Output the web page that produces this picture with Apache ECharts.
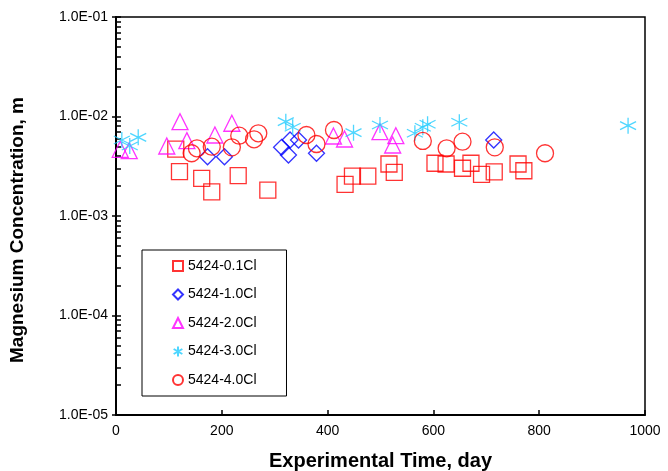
<!DOCTYPE html>
<html>
<head>
<meta charset="utf-8">
<script src="https://cdn.jsdelivr.net/npm/echarts@6/dist/echarts.min.js"></script>
<style>
  html, body { margin: 0; padding: 0; background: #fff; }
  #chart { width: 668px; height: 471px; }
</style>
</head>
<body>
<div id="chart"></div>
<script>
// values (day, molality)
const cl01Days = [113, 120, 162, 181, 231, 287, 433, 447, 476, 516, 526, 603, 624, 655, 671, 691, 715, 760, 771];
const cl01Vals = [4.71e-3, 2.79e-3, 2.39e-3, 1.75e-3, 2.54e-3, 1.82e-3, 2.08e-3, 2.52e-3, 2.52e-3, 3.33e-3, 2.75e-3, 3.39e-3, 3.33e-3, 3.02e-3, 3.39e-3, 2.62e-3, 2.77e-3, 3.33e-3, 2.85e-3];

const cl10Days = [173, 205, 313, 326, 329, 345, 379, 714];
const cl10Vals = [3.94e-3, 3.94e-3, 4.90e-3, 4.10e-3, 5.81e-3, 5.81e-3, 4.27e-3, 5.80e-3];

const cl20Days = [8, 25, 96, 121, 134, 187, 219, 411, 432, 499, 523, 529];
const cl20Vals = [4.68e-3, 4.53e-3, 5.05e-3, 8.87e-3, 5.72e-3, 6.52e-3, 8.55e-3, 6.37e-3, 5.94e-3, 7.04e-3, 5.17e-3, 6.41e-3];

const cl30Days = [11, 26, 42, 321, 334, 449, 499, 565, 580, 589, 649, 968];
const cl30Vals = [5.81e-3, 5.05e-3, 6.18e-3, 8.87e-3, 7.79e-3, 6.88e-3, 8.22e-3, 6.78e-3, 7.79e-3, 8.35e-3, 8.75e-3, 8.09e-3];

const cl40Days = [143, 153, 181, 219, 233, 261, 269, 360, 379, 412, 580, 625, 655, 716, 811];
const cl40Vals = [4.27e-3, 4.79e-3, 4.97e-3, 4.90e-3, 6.41e-3, 5.90e-3, 6.78e-3, 6.52e-3, 5.29e-3, 7.32e-3, 5.68e-3, 4.79e-3, 5.58e-3, 4.90e-3, 4.27e-3];

const seriesNames = ['5424-0.1Cl', '5424-1.0Cl', '5424-2.0Cl', '5424-3.0Cl', '5424-4.0Cl'];
const xTicks = [0, 200, 400, 600, 800, 1000];

const asterisk = 'path://M0,-1L0,1M-0.87,-0.5L0.87,0.5M-0.87,0.5L0.87,-0.5';

const zip = (xs, ys) => xs.map((x, i) => [x, ys[i]]);

// minor ticks 2..9 in each decade, plus the decades
const logTicks = [];
for (let e = -5; e <= -1; e++) {
  for (let m = 1; m <= 9; m++) {
    const v = m * Math.pow(10, e);
    if (v <= 0.1 + 1e-12) logTicks.push(Number(v.toPrecision(3)));
  }
}

const expLabel = (v) => {
  const e = Math.round(Math.log10(v));
  const sign = e < 0 ? '-' : '+';
  const abs = Math.abs(e);
  return '1.0E' + sign + (abs < 10 ? '0' + abs : abs);
};

const mkSeries = (name, data, symbol, color, size) => ({
  name,
  type: 'scatter',
  data,
  symbol,
  symbolSize: size,
  itemStyle: { color: 'rgba(0,0,0,0)', borderColor: color, borderWidth: 1.3 },
  emphasis: { disabled: true },
  z: 3
});

const chart = echarts.init(document.getElementById('chart'), null, { renderer: 'canvas' });

const option = {
  animation: false,
  textStyle: { fontFamily: 'Liberation Sans, Arial, sans-serif' },
  grid: {
    left: 116, right: 23, top: 17, bottom: 56,
    outerBoundsMode: 'none',
    containLabel: false,
    show: true, borderColor: '#000', borderWidth: 1.5, backgroundColor: 'transparent'
  },
  legend: {
    orient: 'vertical',
    left: 142,
    top: 250,
    data: seriesNames,
    itemWidth: 10,
    itemHeight: 10,
    itemGap: 14.5,
    padding: [9, 30, 9, 30],
    borderColor: '#000',
    borderWidth: 1,
    backgroundColor: '#fff',
    textStyle: { fontSize: 14, color: '#000', fontFamily: 'Liberation Sans, Arial, sans-serif' }
  },
  xAxis: {
    type: 'value',
    min: 0,
    max: 1000,
    interval: 200,
    name: 'Experimental Time, day',
    nameLocation: 'middle',
    nameGap: 36,
    nameTextStyle: { fontSize: 20, fontWeight: 'bold', color: '#000' },
    axisLine: { lineStyle: { color: '#000', width: 2 } },
    axisTick: { inside: true, length: 5, lineStyle: { color: '#000', width: 1.5 } },
    axisLabel: { fontSize: 14, color: '#000', margin: 9, formatter: (v) => String(v) },
    splitLine: { show: false }
  },
  yAxis: [
    {
      type: 'log',
      logBase: 10,
      min: 1e-5,
      max: 1e-1,
      splitNumber: 4,
      name: 'Magnesium Concentration, m',
      nameLocation: 'middle',
      nameGap: 89,
      nameTextStyle: { fontSize: 19, fontWeight: 'bold', color: '#000', padding: [0, 28, 0, 0] },
      axisLine: { lineStyle: { color: '#000', width: 2 } },
      axisTick: { inside: false, length: 4, lineStyle: { color: '#000', width: 1.5 } },
      axisLabel: { fontSize: 14, color: '#000', margin: 8, formatter: expLabel },
      splitLine: { show: false }
    },
    {
      type: 'log',
      logBase: 10,
      min: 1e-5,
      max: 1e-1,
      position: 'left',
      axisLine: { show: false },
      axisTick: { inside: true, length: 5, customValues: logTicks, lineStyle: { color: '#000', width: 1.5 } },
      axisLabel: { show: false },
      splitLine: { show: false }
    }
  ],
  series: [
    mkSeries(seriesNames[0], zip(cl01Days, cl01Vals), 'rect', '#ff0000', 16),
    mkSeries(seriesNames[1], zip(cl10Days, cl10Vals), 'diamond', '#0000ff', 16),
    mkSeries(seriesNames[2], zip(cl20Days, cl20Vals), 'triangle', '#ff00ff', 16),
    mkSeries(seriesNames[3], zip(cl30Days, cl30Vals), asterisk, '#22ccff', 16),
    mkSeries(seriesNames[4], zip(cl40Days, cl40Vals), 'circle', '#ff0000', 17)
  ]
};

chart.setOption(option);
</script>
</body>
</html>
